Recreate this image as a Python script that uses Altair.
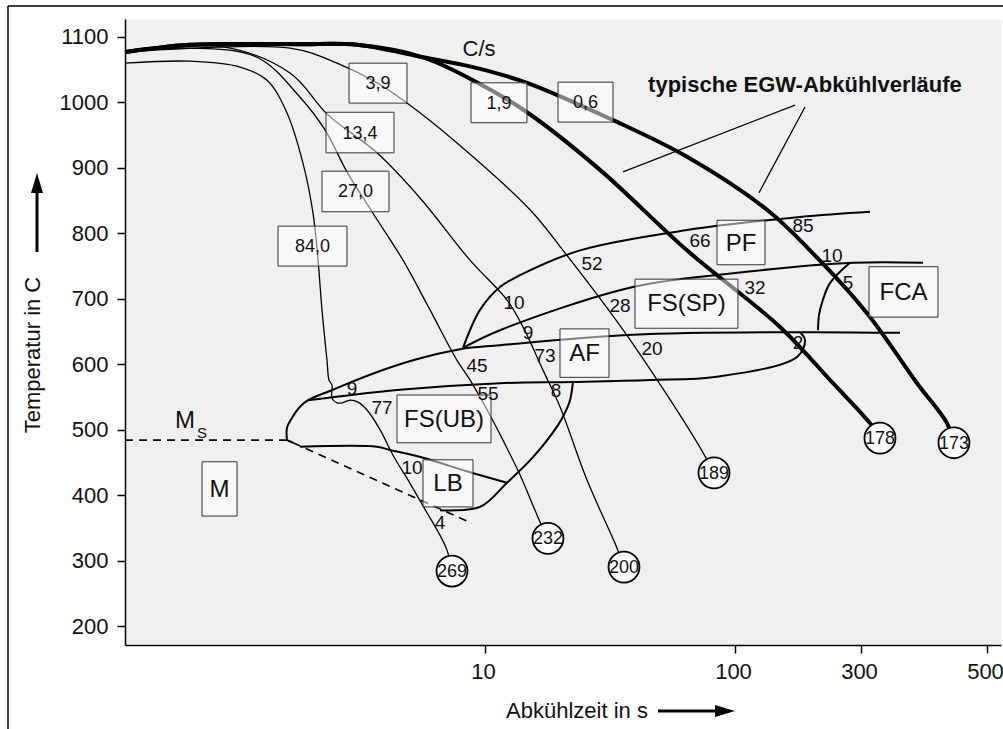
import altair as alt
import pandas as pd

FONT = "Liberation Sans, Arial, Helvetica, sans-serif"

# ---------------- axes ----------------
x_ticks = [10, 100, 300, 500]
y_ticks = [200, 300, 400, 500, 600, 700, 800, 900, 1000, 1100]
# the drawn time axis is logarithmic piecewise (300 and 500 are spaced evenly)
x_domain = [0.363, 10, 100, 300, 500, 529]
x_range = [0, 360, 610, 736, 862, 876]
y_domain = [171, 1127.5]

# ---------------- cooling curves (time s, temperature C) ----------------
c84_t = [0.363, 0.661, 1.047, 1.343, 1.614, 1.871, 2.051, 2.148, 2.228, 2.333, 2.377, 2.443, 2.443,
         2.559, 2.679, 2.884, 3.105, 3.373, 3.802, 4.285, 5.012, 5.861, 6.427, 7.047, 7.379]
c84_T = [1060, 1063, 1054, 1034, 984, 907, 831, 759, 683, 606, 576, 568, 548,
         541, 541, 545, 542, 530, 500, 461, 418, 373, 347, 316, 284]
c27_t = [0.363, 0.661, 1.225, 1.820, 2.291, 2.805, 3.532, 4.699, 6.026, 7.727, 8.710, 10.47, 11.80, 13.80, 16.60, 17.86]
c27_T = [1077, 1083, 1069, 1008, 958, 894, 833, 759, 683, 606, 576, 522, 484, 431, 359, 334]
c134_t = [0.363, 0.895, 1.660, 2.355, 3.698, 5.495, 8.710, 12.25, 14.19, 17.06, 19.95, 25.59, 33.73, 35.97]
c134_T = [1077, 1085, 1045, 981, 923, 854, 759, 698, 657, 591, 535, 423, 319, 290]
c39_t = [0.363, 1.660, 2.559, 3.698, 4.875, 7.727, 15.14, 20.51, 31.62, 40.55, 72.44, 82.41]
c39_T = [1077, 1083, 1060, 1030, 999, 938, 836, 774, 680, 622, 473, 434]
c19_t = [0.363, 0.457, 0.661, 1.820, 3.076, 5.649, 8.954, 14.72, 28.84, 64.27, 148.0, 235.0, 311.1, 324.0]
c19_T = [1077, 1082, 1088, 1089, 1088, 1069, 1034, 985, 897, 774, 657, 571, 510, 487]
c06_t = [0.363, 0.457, 0.661, 1.820, 3.076, 5.649, 8.954, 14.72, 32.51, 64.27, 132.2, 192.3, 307.4, 376.5, 425.1, 437.3]
c06_T = [1077, 1082, 1088, 1089, 1088, 1069, 1054, 1030, 973, 917, 836, 774, 678, 571, 510, 480]

# ---------------- transformation lines ----------------
pf_t = [8.166, 9.550, 11.48, 13.80, 23.99, 64.27, 176.3, 311.1]
pf_T = [625, 683, 718, 736, 774, 805, 825, 833]
sp_t = [8.166, 11.48, 39.08, 98.17, 279.8, 385.7]
sp_T = [625, 652, 718, 739, 755, 755]
main_t = [1.614, 1.614, 1.690, 1.820, 1.959, 2.466, 3.467, 5.152, 7.943, 11.48, 39.08, 176.3, 351.4]
main_T = [484, 503, 518, 535, 545, 561, 584, 606, 623, 629, 645, 649, 648]
inner_t = [1.959, 4.571, 11.48, 22.49, 45.71, 84.72, 171.7, 184.1, 176.3]
inner_T = [545, 561, 571, 573, 576, 581, 611, 637, 649]
aflow_t = [22.49, 21.88, 20.89, 19.59, 15.56, 12.25, 9.550, 6.607]
aflow_T = [573, 545, 526, 507, 458, 419, 382, 377]
bs_t = [1.820, 3.698, 4.169, 5.649, 8.710, 12.25]
bs_T = [474, 474, 469, 457, 435, 419]
hook_t = [1.614, 1.706]
hook_T = [484, 480]
fca_t = [206.2, 208.0, 213.5, 228.9, 272.6]
fca_T = [652, 675, 694, 724, 755]
ms_t = [0.363, 1.614]
ms_T = [484, 484]
msd_t = [1.706, 8.872]
msd_T = [480, 357]

# pointer lines of the annotation
ptr_t = [168.7, 184.1]
ptr_t2 = [35.65, 123.3]
ptr_T = [996, 993]
ptr_T2 = [894, 862]

# ---------------- labels ----------------
num_labels = ["9", "77", "10", "4", "45", "55", "10", "9", "73", "8", "52", "28", "20",
              "66", "85", "10", "32", "5", "2"]
num_t = [2.938, 3.873, 5.105, 6.607, 9.290, 10.28, 13.06, 14.86, 17.38, 19.23, 26.79, 34.67, 46.56,
         72.44, 180.9, 233.0, 119.1, 267.8, 173.2]
num_T = [564, 535, 443, 359, 599, 556, 695, 649, 614, 561, 755, 690, 625,
         790, 813, 767, 718, 726, 634]

region_labels = ["PF", "FS(SP)", "AF", "FCA", "M", "FS(UB)", "LB"]
region_t1 = [84.72, 39.81, 19.95, 309.9, 0.738, 4.446, 5.649]
region_t2 = [129.9, 102.6, 31.33, 409.9, 1.019, 10.57, 8.954]
region_T1 = [752, 655, 580, 672, 368, 480, 382]
region_T2 = [820, 730, 654, 749, 451, 553, 454]
region_tc = [105.4, 63.97, 25.00, 356.4, 0.867, 6.855, 7.112]
region_Tc = [785, 693, 617, 710, 409, 516, 418]

rate_labels = ["3,9", "13,4", "27,0", "84,0", "1,9", "0,6"]
rate_t1 = [2.858, 2.312, 2.228, 1.486, 8.790, 19.59]
rate_t2 = [4.875, 4.325, 4.130, 2.805, 14.72, 32.51]
rate_T1 = [999, 923, 833, 750, 969, 970]
rate_T2 = [1060, 985, 895, 811, 1030, 1031]
rate_tc = [3.733, 3.162, 3.034, 2.042, 11.38, 25.23]
rate_Tc = [1030, 954, 864, 781, 999, 1001]

hv_labels = ["269", "232", "200", "189", "178", "173"]
hv_t = [7.379, 17.86, 35.97, 82.41, 324.0, 437.3]
hv_T = [284, 334, 290, 434, 487, 480]

W, H = 876, 626

xs = alt.Scale(type="log", domain=x_domain, range=x_range, nice=False)
ys = alt.Scale(domain=y_domain, nice=False, zero=False)
common_axis = dict(title=None, grid=False, domainColor="black", domainWidth=1.5,
                   tickColor="black", tickWidth=1.5, tickSize=8, labelFont=FONT,
                   labelFontSize=22, labelColor="#111", labelOverlap=False, labelFlush=False)
xaxis = alt.Axis(values=x_ticks, format="d", labelPadding=8, labelOffset=-2, **common_axis)
yaxis = alt.Axis(values=y_ticks, format="d", labelPadding=9, **common_axis)


def X(f="t"):
    return alt.X(f"{f}:Q", scale=xs, axis=xaxis)


def Y(f="T"):
    return alt.Y(f"{f}:Q", scale=ys, axis=yaxis)


def curve_df(curves):
    rows = []
    for name, ts, Ts in curves:
        for i, (a, b) in enumerate(zip(ts, Ts)):
            rows.append({"curve": name, "i": i, "t": a, "T": b})
    return pd.DataFrame(rows)


def lines(df, width, dash=None):
    kw = dict(color="black", strokeWidth=width, interpolate="catmull-rom", clip=True)
    if dash:
        kw["strokeDash"] = dash
    return alt.Chart(df).mark_line(**kw).encode(
        x=X(), y=Y(), detail="curve:N", order="i:Q")


def texts(labels, ts, Ts, size, weight="normal", dy=1):
    df = pd.DataFrame({"label": labels, "t": ts, "T": Ts})
    return alt.Chart(df).mark_text(font=FONT, fontSize=size, fontWeight=weight, dy=dy,
                                   align="center", baseline="middle", color="#111").encode(
        x=X(), y=Y(), text="label:N")


thin = lines(curve_df([("84", c84_t, c84_T), ("27", c27_t, c27_T),
                       ("13", c134_t, c134_T), ("39", c39_t, c39_T)]), 1.3)
thick = lines(curve_df([("19", c19_t, c19_T), ("06", c06_t, c06_T)]), 4)
bound = lines(curve_df([("pf", pf_t, pf_T), ("sp", sp_t, sp_T), ("main", main_t, main_T),
                        ("inner", inner_t, inner_T), ("aflow", aflow_t, aflow_T),
                        ("bs", bs_t, bs_T), ("hook", hook_t, hook_T), ("fca", fca_t, fca_T)]), 2)
dashed = lines(curve_df([("ms", ms_t, ms_T), ("msd", msd_t, msd_T)]), 1.6, dash=[8, 6])

ptr = alt.Chart(pd.DataFrame({"t": ptr_t, "t2": ptr_t2, "T": ptr_T, "T2": ptr_T2})).mark_rule(
    color="black", strokeWidth=1.3).encode(x=X(), x2=alt.X2("t2"), y=Y(), y2=alt.Y2("T2"))

box_df = pd.DataFrame({"t": rate_t1 + region_t1, "t2": rate_t2 + region_t2,
                       "T": rate_T1 + region_T1, "T2": rate_T2 + region_T2})
boxes = alt.Chart(box_df).mark_rect(fill="white", fillOpacity=0.5, stroke="#333",
                                    strokeWidth=1).encode(
    x=X(), x2=alt.X2("t2"), y=Y(), y2=alt.Y2("T2"))

region_txt = texts(region_labels, region_tc, region_Tc, 24)
rate_txt = texts(rate_labels, rate_tc, rate_Tc, 18)
num_txt = texts(num_labels, num_t, num_T, 19)
cs_txt = texts(["C/s"], [9.462], [1083], 22)
egw_txt = texts(["typische EGW-Abkühlverläufe"], [184.1], [1028], 22, weight="bold")
ms_m = texts(["M"], [0.631], [515], 24)
ms_s = texts(["S"], [0.738], [496], 15)

circles = alt.Chart(pd.DataFrame({"t": hv_t, "T": hv_T})).mark_circle(
    size=960, fill="white", stroke="black", strokeWidth=1.8, opacity=1).encode(x=X(), y=Y())
hv_txt = texts(hv_labels, hv_t, hv_T, 18)

# ---------------- decorations outside the plot ----------------
one = pd.DataFrame({"a": [0]})
ytitle = alt.Chart(one).mark_text(font=FONT, fontSize=22, angle=270, align="center",
                                  baseline="middle", color="#111").encode(
    x=alt.value(-92), y=alt.value(336), text=alt.value("Temperatur in  C"))
yarrow = alt.Chart(one).mark_rule(color="black", strokeWidth=3).encode(
    x=alt.value(-88), y=alt.value(233), y2=alt.value(168))
yhead = alt.Chart(one).mark_point(shape="M -0.6 1 L 0 -1 L 0.6 1 Z", size=400, filled=True,
                                  color="black", opacity=1).encode(
    x=alt.value(-88), y=alt.value(164))
xtitle = alt.Chart(one).mark_text(font=FONT, fontSize=22, align="center",
                                  baseline="middle", color="#111").encode(
    x=alt.value(452), y=alt.value(692), text=alt.value("Abkühlzeit in s"))
xarrow = alt.Chart(one).mark_rule(color="black", strokeWidth=3).encode(
    x=alt.value(533), x2=alt.value(596), y=alt.value(692))
xhead = alt.Chart(one).mark_point(shape="M -1 -0.6 L 1 0 L -1 0.6 Z", size=400, filled=True,
                                  color="black", opacity=1).encode(
    x=alt.value(600), y=alt.value(692))
frame_top = alt.Chart(one).mark_rule(color="black", strokeWidth=1.5).encode(
    x=alt.value(-117), x2=alt.value(880), y=alt.value(-13))
frame_left = alt.Chart(one).mark_rule(color="black", strokeWidth=1.5).encode(
    x=alt.value(-117), y=alt.value(-13), y2=alt.value(712))

chart = alt.layer(
    thin, thick, bound, dashed, ptr, boxes,
    region_txt, rate_txt, num_txt, cs_txt, egw_txt, ms_m, ms_s,
    circles, hv_txt,
    ytitle, yarrow, yhead, xtitle, xarrow, xhead, frame_top, frame_left,
).properties(
    width=W, height=H,
    autosize=alt.AutoSizeParams(type="none"),
    padding={"left": 125, "top": 19, "right": 2, "bottom": 84},
).configure(background="white").configure_view(fill="#f0f0f0", stroke="transparent")

chart.save("out.html", embed_options={"renderer": "svg", "actions": False})
